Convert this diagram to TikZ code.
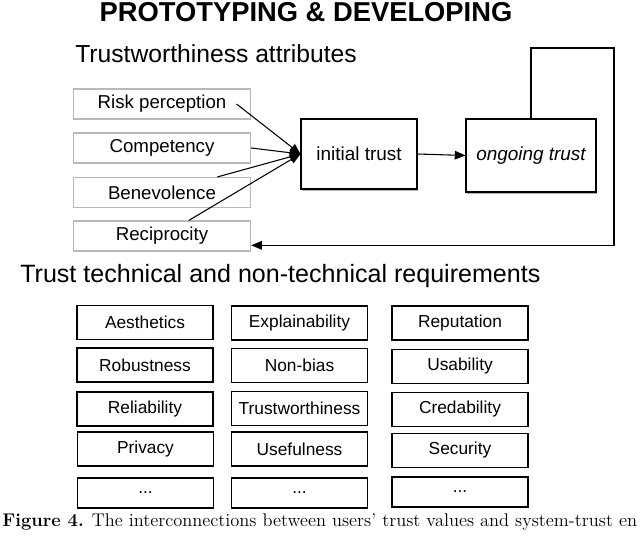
\documentclass[tikz,border=0pt]{standalone}
\usepackage{fontspec}
\setsansfont{Liberation Sans}
\usetikzlibrary{arrows.meta, positioning, calc, shadows}

\begin{document}
\begin{tikzpicture}[
  x=0.75pt, y=-0.75pt,
  attr/.style={rectangle, draw=gray!55, line width=0.8pt, fill=white,
               minimum width=133pt, minimum height=22.5pt, inner sep=0pt,
               font=\fontsize{14}{16}\sffamily},
  trust/.style={rectangle, draw, line width=0.8pt, fill=white, inner sep=0pt,
                drop shadow={shadow xshift=0.4pt, shadow yshift=-1.6pt,
                             fill=black, opacity=0.3},
                font=\fontsize{14.2}{16}\sffamily},
  req/.style={rectangle, draw, line width=0.9pt, fill=white,
              minimum width=102pt, minimum height=25.5pt, inner sep=0pt,
              font=\fontsize{13}{15}\sffamily},
  heading/.style={anchor=west, inner sep=0pt, font=\fontsize{18.5}{20}\sffamily},
  arrow/.style={-{Triangle[length=8pt,width=6.5pt]}, line width=0.8pt},
]
\useasboundingbox (0,0) rectangle (640,542);

% ---- title ----
\node[font=\fontsize{20.5}{24}\sffamily\bfseries] (title) at (306,12)
     {PROTOTYPING \& DEVELOPING};

% ---- trustworthiness attributes ----
\node[heading] (head-attr) at (75,54) {Trustworthiness attributes};

\node[attr] (risk)   at (162,104)   {Risk perception};
\node[attr] (comp)   at (162,148)   {Competency};
\node[attr] (benev)  at (162,192.5) {Benevolence};
\node[attr] (recip)  at (162,236)   {Reciprocity};

\node[trust, minimum width=87pt, minimum height=52.5pt] (initial) at (359,154)
     {initial trust};
\node[trust, minimum width=97.5pt, minimum height=54.75pt] (ongoing) at (531,155.5)
     {\itshape ongoing trust};

\coordinate (loop) at (614,48);

% ---- connections ----
\draw[arrow] ([xshift=-11pt]risk.east) -- (initial.west);
\draw[arrow] (comp.east) -- (initial.west);
\draw[arrow] ($(benev.north west)!0.81!(benev.north east)$) -- (initial.west);
\draw[arrow] ($(recip.north west)!0.65!(recip.north east)$) -- (initial.west);
\draw[arrow] (initial.east) -- (ongoing.west);
\draw[arrow] (ongoing.north) |- (loop)
             |- ($(recip.east)!0.6!(recip.south east)$);

% ---- requirements ----
\node[heading, font=\fontsize{18.8}{20}\sffamily] (head-req) at (20,276)
     {Trust technical and non-technical requirements};

\node[req] (aest)    at (145,322.5)   {Aesthetics};
\node[req] (expl)    at (299.5,323)   {Explainability};
\node[req] (reput)   at (460,323)     {Reputation};

\node[req] (robust)  at (145,365)     {Robustness};
\node[req] (nonbias) at (299.5,365.5) {Non-bias};
\node[req] (usab)    at (460,366.5)   {Usability};

\node[req] (reliab)  at (145,409)     {Reliability};
\node[req] (trustw)  at (299.5,408.5) {Trustworthiness};
\node[req] (cred)    at (460,409.5)   {Credability};

\node[req] (privacy) at (145.5,449)   {Privacy};
\node[req] (useful)  at (299.5,449)   {Usefulness};
\node[req] (secur)   at (460,450.5)   {Security};

\node[req, minimum height=22.5pt] (more1) at (145.5,493) {...};
\node[req, minimum height=22.5pt] (more2) at (299.5,493) {...};
\node[req, minimum height=22.5pt] (more3) at (460,492)   {...};

% ---- caption ----
\node[anchor=base west, inner sep=0pt, font=\fontsize{13.8}{16}\selectfont]
     (caption) at (2,526)
     {\textbf{Figure 4.} The interconnections between users' trust values and system-trust en};

\end{tikzpicture}
\end{document}
